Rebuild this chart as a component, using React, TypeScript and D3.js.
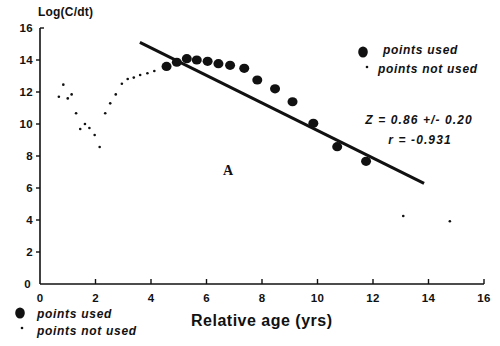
import React from "react";
import * as d3 from "d3";

const usedX = [4.56, 4.93, 5.29, 5.65, 6.04, 6.43, 6.85, 7.36, 7.83, 8.47, 9.1, 9.85, 10.71, 11.75];
const usedY = [13.6, 13.86, 14.08, 14.0, 13.92, 13.77, 13.67, 13.48, 12.75, 12.2, 11.39, 10.04, 8.58, 7.67];
const notUsedX = [0.68, 0.84, 1.0, 1.14, 1.3, 1.45, 1.62, 1.78, 1.97, 2.15, 2.35, 2.53, 2.73, 2.95, 3.16, 3.38, 3.61, 3.87, 4.12, 13.09, 14.77];
const notUsedY = [11.7, 12.46, 11.6, 11.85, 10.67, 9.69, 10.0, 9.75, 9.31, 8.56, 10.67, 11.29, 11.85, 12.52, 12.81, 12.9, 13.06, 13.17, 13.31, 4.25, 3.92];
const fitX = [3.6, 13.84];
const fitY = [15.1, 6.29];
const xTicks = [0, 2, 4, 6, 8, 10, 12, 14, 16];
const yTicks = [0, 2, 4, 6, 8, 10, 12, 14, 16];

export default function App() {
  const x = d3.scaleLinear().domain([0, 16]).range([40, 484]);
  const y = d3.scaleLinear().domain([0, 16]).range([284, 28]);
  const line = d3.line<number>().x((_, i) => x(fitX[i])).y((d) => y(d));
  const font = "'Liberation Sans', Arial, sans-serif";
  const legendStyle = { fontSize: 12, fontWeight: "bold" as const, fontStyle: "italic" as const, letterSpacing: 0.7 };
  return (
    <svg width={500} height={346} style={{ position: "absolute", left: 0, top: 0, background: "#fff" }} fontFamily={font}>
      {/* axes */}
      <line x1={x(0)} x2={x(0)} y1={y(16)} y2={y(0)} stroke="#111" strokeWidth={1.6} />
      <line x1={x(0)} x2={x(16)} y1={y(0)} y2={y(0)} stroke="#111" strokeWidth={1.4} />
      {yTicks.map((t) => (
        <g key={"y" + t}>
          {t > 0 && (
            <line x1={t === 16 ? x(0) : x(0) - 4} x2={t === 16 ? x(0) + 4 : x(0)} y1={y(t)} y2={y(t)} stroke="#111" strokeWidth={1.4} />
          )}
          <text x={t === 0 ? 31 : 33} y={y(t) + 4} textAnchor="end" fontSize={11.5} fontWeight="bold" fill="#111" letterSpacing={0.3}>
            {t}
          </text>
        </g>
      ))}
      {xTicks.map((t) => (
        <g key={"x" + t}>
          {t > 0 && <line x1={x(t)} x2={x(t)} y1={y(0)} y2={y(0) - 5} stroke="#111" strokeWidth={1.4} />}
          <text x={x(t)} y={302} textAnchor="middle" fontSize={11.5} fontWeight="bold" fill="#111" letterSpacing={0.3}>
            {t}
          </text>
        </g>
      ))}
      <text x={38} y={16} fontSize={12} fontWeight="bold" fill="#111" letterSpacing={0.2}>Log(C/dt)</text>
      <text x={191} y={326} fontSize={16} fill="#111" fontWeight={600} letterSpacing={0.5}>Relative age (yrs)</text>

      {/* fit line */}
      <path d={line(fitY) || ""} stroke="#111" strokeWidth={3} fill="none" />

      {/* not used points */}
      {notUsedX.map((v, i) => (
        <circle key={"n" + i} cx={x(v)} cy={y(notUsedY[i])} r={1.3} fill="#111" />
      ))}
      {/* used points */}
      {usedX.map((v, i) => (
        <ellipse key={"u" + i} cx={x(v)} cy={y(usedY[i])} rx={5} ry={4.6} fill="#111" />
      ))}

      {/* legend top-right */}
      <ellipse cx={363} cy={52} rx={4.8} ry={5.5} fill="#111" />
      <text x={383} y={54} {...legendStyle} fill="#111">points used</text>
      <circle cx={367} cy={67} r={1.3} fill="#111" />
      <text x={378} y={73} {...legendStyle} fill="#111">points not used</text>

      <text x={419} y={124} {...legendStyle} letterSpacing={1.1} textAnchor="middle" fill="#111">Z = 0.86 +/- 0.20</text>
      <text x={420} y={144} {...legendStyle} letterSpacing={1.1} textAnchor="middle" fill="#111">r = -0.931</text>

      <text x={228} y={175} fontSize={14} fontWeight="bold" textAnchor="middle" fontFamily="'Liberation Serif', serif" fill="#111">A</text>

      {/* legend bottom-left */}
      <ellipse cx={20} cy={313} rx={4.8} ry={5.5} fill="#111" />
      <text x={37} y={318} {...legendStyle} fill="#111">points used</text>
      <circle cx={22} cy={328} r={1.3} fill="#111" />
      <text x={37} y={335} {...legendStyle} fill="#111">points not used</text>
    </svg>
  );
}
